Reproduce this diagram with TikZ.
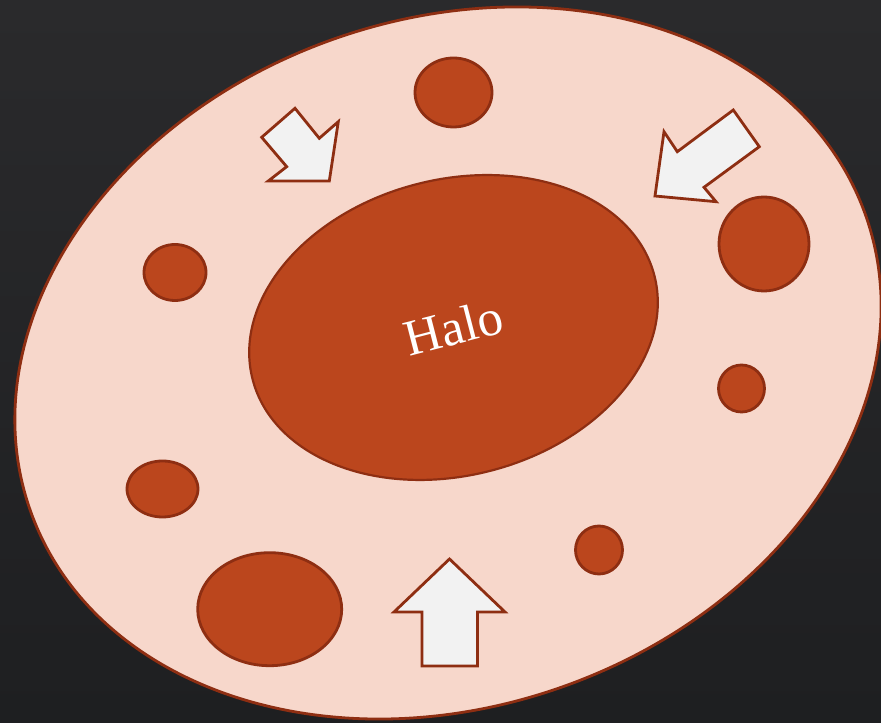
\documentclass[tikz,border=0pt]{standalone}
\usepackage{fontspec}
\setmainfont{Liberation Serif}
\usetikzlibrary{shapes.geometric}
\definecolor{bgdark}{HTML}{2A2A2C}
\definecolor{bgdeep}{HTML}{1E1F21}
\definecolor{rim}{HTML}{8E2E12}
\definecolor{cellfill}{HTML}{F7D7CB}
\definecolor{corefill}{HTML}{BB461D}
\definecolor{arrowfill}{HTML}{F2F2F2}
\tikzset{
cell/.style={draw=rim,fill=cellfill,ellipse,line width=2.8pt,inner sep=0pt},
core/.style={draw=rim,fill=corefill,ellipse,line width=2.2pt,inner sep=0pt,text=white,font=\fontsize{51}{56}\selectfont},
blob/.style={draw=rim,fill=corefill,ellipse,line width=2.8pt,inner sep=0pt},
push/.style={draw=rim,fill=arrowfill,line width=2.8pt,line join=miter}
}
\begin{document}
\begin{tikzpicture}[x=1pt,y=1pt]
\shade[top color=bgdark,bottom color=bgdeep](0,0)rectangle(881,723);
\useasboundingbox(0,0)rectangle(881,723);
\node[cell,rotate=19.5,minimum width=886pt,minimum height=687pt](cell) at (448,360){};
\node[core,rotate=14.5,minimum width=415pt,minimum height=296pt](halo) at (453.5,395.5){Halo};
% small bodies round the halo
\foreach \i/\p/\w/\h in {1/{453.5,630.5}/77/69, 2/{764,479}/90/94, 3/{175,450.5}/62/56,
  4/{741.5,334.5}/46/47, 5/{162.5,234}/71/56, 6/{269.7,113.8}/144/113, 7/{599,173}/47/48}
  \node[blob,minimum width=\w pt,minimum height=\h pt](b\i) at (\p){};
% inward pushes
\draw[push](449.5,164)--(505,111)--(477.5,111)--(477.5,57)--(422,57)--(422,111)--(394,111)--cycle;
\draw[push](295,614.7)--(261.7,585.7)--(286.7,556.3)--(268.3,542)--(329.3,542)--(338.3,601.3)--(319.3,584.7)--cycle;
\draw[push](733.3,613)--(759.3,576.3)--(704,535.7)--(716,521.3)--(655,527)--(664,591.3)--(677.3,571.3)--cycle;
\end{tikzpicture}
\end{document}
